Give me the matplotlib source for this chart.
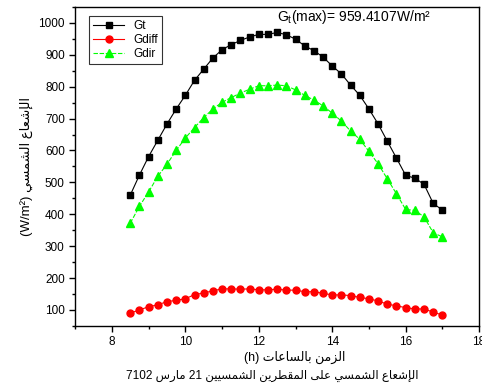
import matplotlib
matplotlib.use("Agg")
import matplotlib.pyplot as plt
from matplotlib.ticker import MultipleLocator

plt.rcParams["font.family"] = ["Liberation Sans", "DejaVu Sans"]
plt.rcParams["mathtext.fontset"] = "custom"
plt.rcParams["mathtext.rm"] = "Liberation Sans"

# ---- data ----
hours = [8.5 + 0.25 * i for i in range(35)]
gt = [460, 523, 581, 632, 683, 730, 773, 820, 855, 890, 916, 932, 945,
      956, 964, 964, 970, 963, 949, 928, 913, 893, 865, 840, 805, 773,
      730, 683, 629, 576, 522, 513, 494, 434, 413]
gdiff = [90, 100, 110, 116, 126, 130, 135, 148, 153, 160, 166, 166, 165,
         166, 163, 163, 165, 162, 162, 157, 157, 152, 147, 147, 145, 139,
         135, 128, 118, 113, 107, 103, 103, 93, 84]
gdir = [372, 425, 470, 519, 557, 600, 639, 672, 703, 730, 751, 766, 780,
        792, 803, 803, 805, 803, 790, 773, 758, 740, 717, 692, 661, 635,
        597, 558, 511, 464, 415, 412, 392, 342, 329]
gt_max_label = "959.4107"

# ---- minimal arabic shaping (presentation forms), drawn right-to-left ----
FORMS = {
    "ا": (0xFE8D, 0xFE8E, None, None), "إ": (0xFE87, 0xFE88, None, None),
    "ر": (0xFEAD, 0xFEAE, None, None), "ز": (0xFEAF, 0xFEB0, None, None),
    "ى": (0xFEEF, 0xFEF0, None, None),
    "ب": (0xFE8F, 0xFE90, 0xFE91, 0xFE92), "ت": (0xFE95, 0xFE96, 0xFE97, 0xFE98),
    "س": (0xFEB1, 0xFEB2, 0xFEB3, 0xFEB4), "ش": (0xFEB5, 0xFEB6, 0xFEB7, 0xFEB8),
    "ط": (0xFEC1, 0xFEC2, 0xFEC3, 0xFEC4), "ع": (0xFEC9, 0xFECA, 0xFECB, 0xFECC),
    "ق": (0xFED5, 0xFED6, 0xFED7, 0xFED8), "ل": (0xFEDD, 0xFEDE, 0xFEDF, 0xFEE0),
    "م": (0xFEE1, 0xFEE2, 0xFEE3, 0xFEE4), "ن": (0xFEE5, 0xFEE6, 0xFEE7, 0xFEE8),
    "ي": (0xFEF1, 0xFEF2, 0xFEF3, 0xFEF4),
}


def shape_word(w):
    out = []
    for i, c in enumerate(w):
        if c not in FORMS:
            out.append(c)
            continue
        iso, fin, ini, med = FORMS[c]
        prev = w[i - 1] if i > 0 else None
        nxt = w[i + 1] if i < len(w) - 1 else None
        jp = prev in FORMS and FORMS[prev][2] is not None
        jn = ini is not None and nxt in FORMS
        if jp and jn:
            code = med
        elif jp:
            code = fin
        elif jn:
            code = ini
        else:
            code = iso
        out.append(chr(code))
    return "".join(out)


def rtl(text):
    words = []
    for w in text.split(" "):
        if any(c in FORMS for c in w):
            words.append(shape_word(w)[::-1])
        else:
            words.append(w)
    return " ".join(words[::-1])


fig = plt.figure(figsize=(4.82, 3.87), dpi=100)
ax = fig.add_axes([0.156, 0.158, 0.838, 0.824])

ax.plot(hours, gt, color="black", marker="s", markersize=4.5, lw=0.8, label="Gt")
ax.plot(hours, gdiff, color="red", marker="o", markersize=5, lw=0.8, label="Gdiff")
ax.plot(hours, gdir, color="#00ff00", marker="^", markersize=6, lw=0.8,
        ls="--", dashes=(4, 1.5), label="Gdir")

ax.set_xlim(7, 18)
ax.set_ylim(50, 1050)
ax.xaxis.set_major_locator(MultipleLocator(2))
ax.xaxis.set_minor_locator(MultipleLocator(1))
ax.yaxis.set_major_locator(MultipleLocator(100))
ax.yaxis.set_minor_locator(MultipleLocator(50))
ax.tick_params(which="both", direction="out", labelsize=8.5, width=1.0)
ax.tick_params(which="major", length=4)
ax.tick_params(which="minor", length=2.5)
for s in ax.spines.values():
    s.set_linewidth(1.0)

leg = ax.legend(loc="upper left", fontsize=8.5, handlelength=2.6,
                fancybox=False, edgecolor="black", borderpad=0.35,
                labelspacing=0.15, bbox_to_anchor=(0.02, 0.99))
leg.get_frame().set_linewidth(0.8)

ax.text(14.6, 1017, r"G$_\mathregular{t}$(max)= " + gt_max_label + "W/m²",
        ha="center", va="center", fontsize=10)

ax.set_ylabel("(W/m²) " + rtl("الإشعاع الشمسي"), fontsize=9.5, labelpad=4)
fig.text(0.612, 0.077, "(h) " + rtl("الزمن بالساعات"), ha="center",
         va="center", fontsize=9)
fig.text(0.565, 0.028, rtl("الإشعاع الشمسي على المقطرين الشمسيين 21 مارس 7102"),
         ha="center", va="center", fontsize=8.5)

fig.savefig("out.png", dpi=100, facecolor="white")
